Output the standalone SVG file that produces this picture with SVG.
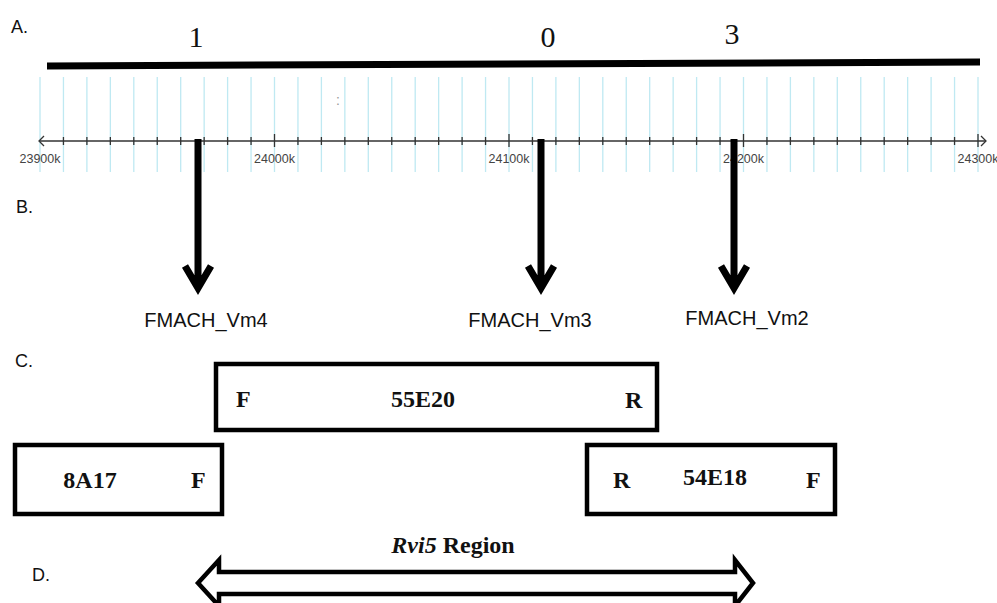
<svg xmlns="http://www.w3.org/2000/svg" width="997" height="603" viewBox="0 0 997 603">
<defs>
<style>
.lbl{font-family:"Liberation Sans",Arial,sans-serif;font-size:18px;fill:#111}
.num{font-family:"Liberation Serif","Times New Roman",serif;font-size:30px;fill:#111;text-anchor:middle}
.grid{stroke:#bfe9f2;stroke-width:1.3}
.tick{stroke:#333;stroke-width:1.3}
.axl{font-family:"Liberation Sans",Arial,sans-serif;font-size:12.5px;fill:#444;text-anchor:middle}
.mk{font-family:"Liberation Sans",Arial,sans-serif;font-size:20px;fill:#111;text-anchor:middle}
.arr{stroke:#000;stroke-width:7;fill:none;stroke-linejoin:miter}
.box rect{fill:#fff;stroke:#000;stroke-width:4.5}
.bt{font-family:"Liberation Serif","Times New Roman",serif;font-size:24px;font-weight:bold;fill:#111}
</style>
</defs>
<rect width="997" height="603" fill="#fff"/>

<g id="labels">
<text class="lbl" x="11" y="33">A.</text>
<text class="lbl" x="16" y="213">B.</text>
<text class="lbl" x="15" y="367">C.</text>
<text class="lbl" x="32" y="581">D.</text>
</g>

<g id="map">
<text class="num" x="196" y="47">1</text>
<text class="num" x="548" y="47">0</text>
<text class="num" x="732" y="44">3</text>
<line x1="47" y1="66" x2="980" y2="62" stroke="#000" stroke-width="7"/>
<path class="grid" d="M40 77V172M63.45 77V172M86.9 77V172M110.35 77V172M133.8 77V172M157.25 77V172M180.7 77V172M204.15 77V172M227.6 77V172M251.05 77V172M274.5 77V172M297.95 77V172M321.4 77V172M344.85 77V172M368.3 77V172M391.75 77V172M415.2 77V172M438.65 77V172M462.1 77V172M485.55 77V172M509 77V172M532.45 77V172M555.9 77V172M579.35 77V172M602.8 77V172M626.25 77V172M649.7 77V172M673.15 77V172M696.6 77V172M720.05 77V172M743.5 77V172M766.95 77V172M790.4 77V172M813.85 77V172M837.3 77V172M860.75 77V172M884.2 77V172M907.65 77V172M931.1 77V172M954.55 77V172M978 77V172"/>
<text x="338" y="105" font-family="Liberation Sans,Arial,sans-serif" font-size="14" fill="#999" text-anchor="middle">:</text>
<line x1="40" y1="141" x2="986" y2="141" stroke="#333" stroke-width="1.5"/>
<path d="M44 136L39 141L44 146M981 136L986 141L981 146" stroke="#333" stroke-width="1.3" fill="none"/>
<path class="tick" d="M63.45 137V145M86.9 137V145M110.35 137V145M133.8 137V145M157.25 137V145M180.7 137V145M204.15 137V145M227.6 137V145M251.05 137V145M274.5 134V147M297.95 137V145M321.4 137V145M344.85 137V145M368.3 137V145M391.75 137V145M415.2 137V145M438.65 137V145M462.1 137V145M485.55 137V145M509 134V147M532.45 137V145M555.9 137V145M579.35 137V145M602.8 137V145M626.25 137V145M649.7 137V145M673.15 137V145M696.6 137V145M720.05 137V145M743.5 134V147M766.95 137V145M790.4 137V145M813.85 137V145M837.3 137V145M860.75 137V145M884.2 137V145M907.65 137V145M931.1 137V145M954.55 137V145M978 134V147"/>
<text class="axl" x="40" y="163">23900k</text>
<text class="axl" x="274.5" y="163">24000k</text>
<text class="axl" x="509" y="163">24100k</text>
<text class="axl" x="743.5" y="163">24200k</text>
<text class="axl" x="978" y="163">24300k</text>
</g>

<g id="connectors">
<path class="arr" d="M198 139V289M185 266L198 288L211 266"/>
<path class="arr" d="M541 139V289M528 266L541 288L554 266"/>
<path class="arr" d="M734 139V289M721 266L734 288L747 266"/>
</g>

<g id="markers">
<text class="mk" x="206" y="327">FMACH_Vm4</text>
<text class="mk" x="530" y="327">FMACH_Vm3</text>
<text class="mk" x="747" y="325">FMACH_Vm2</text>
</g>

<g id="bac-55E20" class="box">
<rect x="216" y="364" width="441" height="66"/>
<text class="bt" x="236" y="407">F</text>
<text class="bt" x="423" y="407" text-anchor="middle">55E20</text>
<text class="bt" x="625" y="408">R</text>
</g>

<g id="bac-8A17" class="box">
<rect x="15" y="445" width="207" height="69"/>
<text class="bt" x="90" y="488" text-anchor="middle">8A17</text>
<text class="bt" x="191" y="488">F</text>
</g>

<g id="bac-54E18" class="box">
<rect x="587" y="445" width="248" height="69"/>
<text class="bt" x="613" y="488">R</text>
<text class="bt" x="715" y="485" text-anchor="middle">54E18</text>
<text class="bt" x="806" y="488">F</text>
</g>

<g id="rvi5-region">
<text class="bt" x="453" y="553" text-anchor="middle"><tspan font-style="italic">Rvi5</tspan> Region</text>
<polygon points="198,583 219,560 219,572 735,572 735,560 753,583 735,606 735,594 219,594 219,606" fill="#fff" stroke="#000" stroke-width="4.5"/>
</g>
</svg>
